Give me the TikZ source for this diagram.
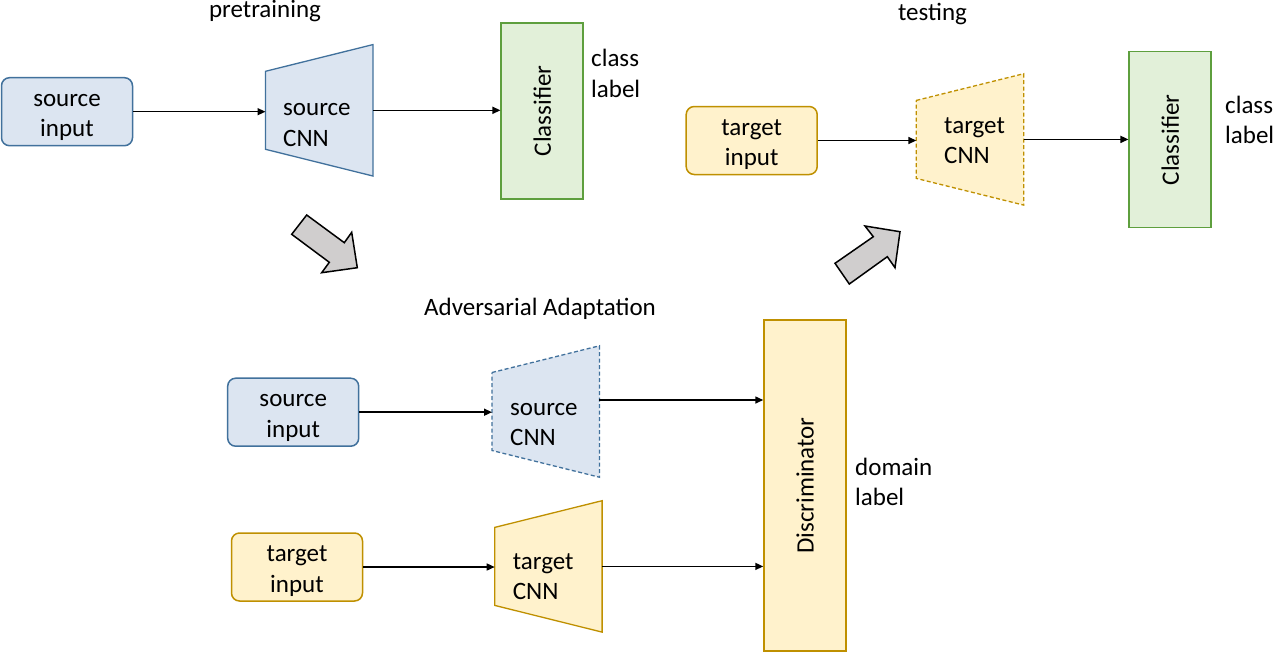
\documentclass[tikz,border=0pt]{standalone}
\usepackage{fontspec}
\setmainfont{Carlito}
\usetikzlibrary{arrows.meta,calc}
\definecolor{bfill}{HTML}{DCE5F1}
\definecolor{bline}{HTML}{41719C}
\definecolor{yfill}{HTML}{FFF2CC}
\definecolor{yline}{HTML}{BF9000}
\definecolor{gfill}{HTML}{E2F0D9}
\definecolor{gline}{HTML}{5E9F3E}
\definecolor{afill}{HTML}{D0CECE}
\newcommand{\twoc}[2]{\raisebox{-4pt}[21pt][39.5pt]{\begin{tabular}[t]{@{}c@{}}#1\\#2\end{tabular}}}
\newcommand{\twol}[2]{\begin{tabular}[t]{@{}l@{}}#1\\#2\end{tabular}}
\newcommand{\trapdraw}[2]{\draw[#2] ($(#1.west)+(0,-39)$) -- (#1.north east) -- (#1.south east) -- ($(#1.west)+(0,39)$) -- cycle;}
\tikzset{
  every node/.style={font=\fontsize{25}{30.5}\selectfont, inner sep=0pt},
  inbox/.style={draw, rounded corners=8pt, line width=1.5pt, minimum width=131pt, minimum height=68pt},
  bluebox/.style={inbox, draw=bline, fill=bfill},
  yelbox/.style={inbox, draw=yline, fill=yfill},
  clsbox/.style={draw=gline, fill=gfill, line width=1.5pt, rotate=90, minimum width=176pt, minimum height=82pt},
  discbox/.style={draw=yline, fill=yfill, line width=1.5pt, rotate=90, minimum width=331pt, minimum height=82pt},
  cnnbox/.style={minimum width=107pt, minimum height=131pt},
  bluetrap/.style={draw=bline, fill=bfill, line width=1.3pt, line join=miter},
  yeltrap/.style={draw=yline, fill=yfill, line width=1.3pt, line join=miter},
  dashtrap/.style={dash pattern=on 4pt off 2.5pt},
  lbl/.style={anchor=base},
  cnntxt/.style={anchor=base west},
  arr/.style={line width=1.5pt, -{Triangle[length=8pt,width=7pt]}},
  bigarrow/.style={fill=afill, draw=black, line width=1.5pt, line join=miter}
}
\begin{document}
\begin{tikzpicture}[x=1pt,y=-1pt]
\useasboundingbox (0,0) rectangle (1274,654);
\fill[white] (0,0) rectangle (1274,654);

% ---------- pretraining ----------
\node[lbl] (ptitle) at (265,17.5) {pretraining};
\node[bluebox] (psin) at (67,111.7) {\twoc{source}{input}};
\node[cnnbox] (pcnn) at (319.2,110.3) {};
\trapdraw{pcnn}{bluetrap}
\node[cnntxt] (pcnnt) at (283,115.5) {\twol{source}{CNN}};
\node[clsbox] (pcls) at (542.2,110.9) {Classifier};
\node[anchor=base west] (pclab) at (591,66.7) {\twol{class}{label}};
\draw[arr] (psin.east) -- (psin.east -| pcnn.west);
\draw[arr] (pcnn.east) -- (pcnn.east -| pcls.north);

% ---------- testing ----------
\node[lbl] (ttitle) at (932.5,20.7) {testing};
\node[yelbox] (tin) at (751.7,140.5) {\twoc{target}{input}};
\node[cnnbox] (tcnn) at (970,139.4) {};
\trapdraw{tcnn}{yeltrap,dashtrap}
\node[cnntxt] (tcnnt) at (944,133.3) {\twol{target}{CNN}};
\node[clsbox] (tcls) at (1170.2,139.7) {Classifier};
\node[anchor=base west] (tclab) at (1225,113.3) {\twol{class}{label}};
\draw[arr] (tin.east) -- (tin.east -| tcnn.west);
\draw[arr] (tcnn.east) -- (tcnn.east -| tcls.north);

% ---------- block arrows ----------
\draw[bigarrow] (291.7,234.3) -- (306.7,215) -- (344.3,242.7) -- (351.7,232.3) -- (357.3,267.7) -- (321.7,272.7) -- (329.3,262.3) -- cycle;
\draw[bigarrow] (835,263.3) -- (873.3,236.7) -- (865,226) -- (900,231.7) -- (895,267.7) -- (887.3,256.7) -- (849.3,284) -- cycle;

% ---------- adversarial adaptation ----------
\node[lbl] (atitle) at (540,315) {Adversarial Adaptation};
\node[bluebox] (asin) at (293.2,412.2) {\twoc{source}{input}};
\node[yelbox] (atin) at (297,567) {\twoc{target}{input}};
\node[cnnbox] (ascnn) at (545.7,411.5) {};
\trapdraw{ascnn}{bluetrap,dashtrap}
\node[cnntxt] (ascnnt) at (510,415) {\twol{source}{CNN}};
\node[cnnbox] (atcnn) at (548.4,566.4) {};
\trapdraw{atcnn}{yeltrap}
\node[cnntxt] (atcnnt) at (512.7,569.3) {\twol{target}{CNN}};
\node[discbox] (disc) at (805,485.5) {Discriminator};
\node[anchor=base west] (dlab) at (855,475) {\twol{domain}{label}};
\coordinate (ascnnout) at ($(ascnn.east)+(0,-11.5)$);
\draw[arr] (asin.east) -- (asin.east -| ascnn.west);
\draw[arr] (ascnnout) -- (ascnnout -| disc.north);
\draw[arr] (atin.east) -- (atin.east -| atcnn.west);
\draw[arr] (atcnn.east) -- (atcnn.east -| disc.north);
\end{tikzpicture}
\end{document}
